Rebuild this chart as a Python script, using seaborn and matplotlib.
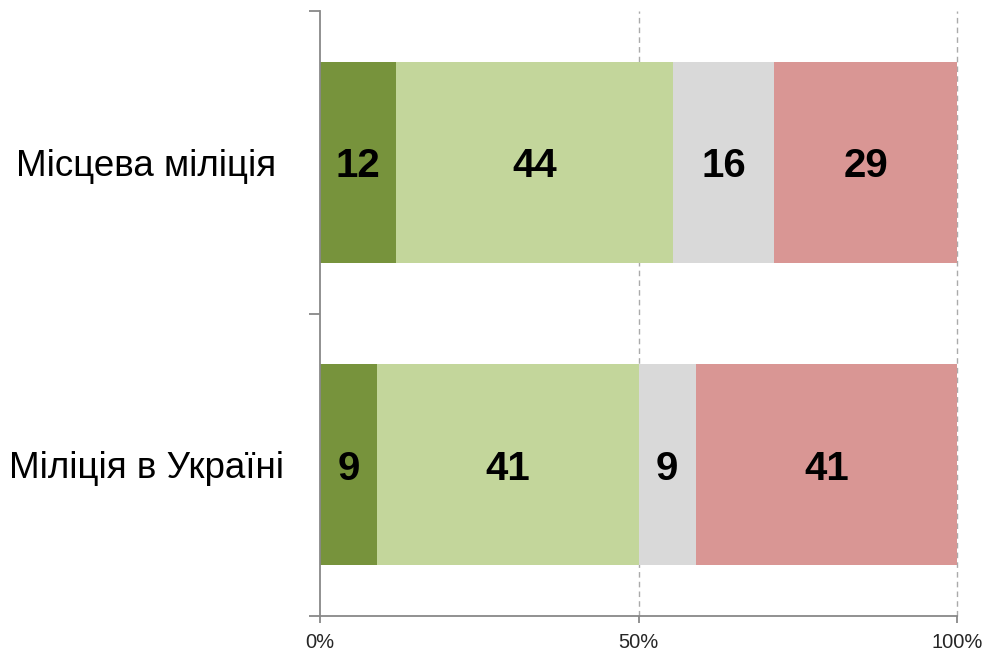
import numpy as np
import pandas as pd
import matplotlib
matplotlib.use("Agg")
import matplotlib.pyplot as plt
import seaborn as sns

# Données
categories = ["Місцева міліція", "Міліція в Україні"]
segment_names = ["s1", "s2", "s3", "s4"]
values_local = [12, 44, 16, 29]
values_ukraine = [9, 41, 9, 41]
tick_values = [0, 50, 100]
tick_labels = ["0%", "50%", "100%"]
colors = ["#77933C", "#C3D69B", "#D9D9D9", "#D99694"]

sns.set_theme(style="white")
plt.rcParams['font.family'] = ['Liberation Sans', 'DejaVu Sans']

raw = np.array([values_local, values_ukraine], dtype=float)
share = raw / raw.sum(axis=1, keepdims=True) * 100
cum = share.cumsum(axis=1)

df = pd.DataFrame(cum, columns=segment_names)
df["category"] = categories

fig = plt.figure(figsize=(9.87, 6.54), dpi=100)
ax = fig.add_axes([320 / 987, 1 - 616 / 654, 637 / 987, 605 / 654])

# Barres empilées : on dessine les cumuls du plus grand au plus petit
for i in range(len(segment_names) - 1, -1, -1):
    sns.barplot(data=df, x=segment_names[i], y="category", color=colors[i],
                orient="h", width=0.665, saturation=1, linewidth=0,
                ax=ax, zorder=2)

# Valeurs au centre de chaque segment
for r in range(len(categories)):
    left = 0
    for c in range(len(segment_names)):
        mid = left + share[r, c] / 2
        ax.text(mid, r, f"{int(raw[r, c])}", ha="center", va="center_baseline",
                fontsize=29, fontweight="bold", color="black", zorder=3)
        left += share[r, c]

ax.set_xlim(0, 100)
ax.set_ylim(1.5, -0.5)
ax.set_xticks(tick_values, tick_labels)
ax.set_yticks([-0.5, 0.5, 1.5], ["", "", ""])
ax.set_xlabel("")
ax.set_ylabel("")

# Libellés des catégories centrés
for r, name in enumerate(categories):
    ax.text(-0.273, r, name, transform=ax.get_yaxis_transform(),
            ha="center", va="center_baseline", fontsize=26.5, color="black")

for s in ["top", "right"]:
    ax.spines[s].set_visible(False)
for s in ["left", "bottom"]:
    ax.spines[s].set_color("#888888")
    ax.spines[s].set_linewidth(1.3)

ax.tick_params(axis="y", which="major", length=8, width=1.3, color="#888888", left=True)
ax.tick_params(axis="x", which="major", length=5, width=1.3, color="#888888",
               bottom=True, labelsize=14.5, pad=7)
ax.xaxis.grid(False)
ax.yaxis.grid(False)
# Lignes de repère pointillées à 50% et 100%
for v in tick_values[1:]:
    ax.axvline(v, linestyle=(0, (4, 3)), color="#AAAAAA", linewidth=1,
               zorder=0, clip_on=False)

fig.savefig("out.png", dpi=100)
